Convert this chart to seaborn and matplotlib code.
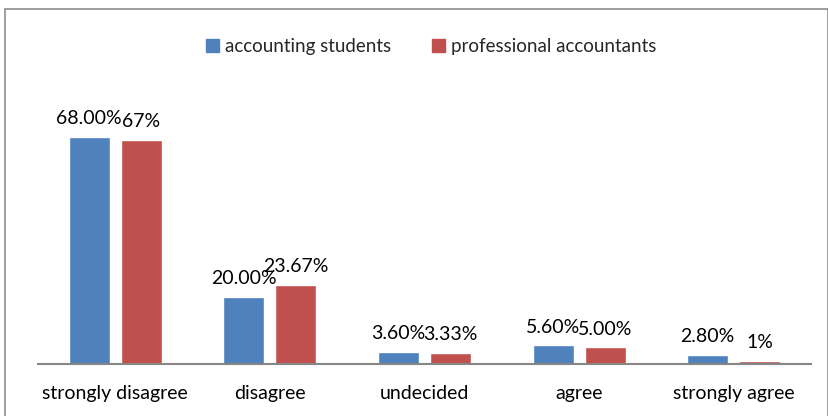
import matplotlib
matplotlib.use("Agg")
import matplotlib.pyplot as plt
import seaborn as sns
import pandas as pd
from matplotlib.patches import Rectangle

categories = ["strongly disagree", "disagree", "undecided", "agree", "strongly agree"]
students = [68.00, 20.00, 3.60, 5.60, 2.80]
professionals = [67.00, 23.67, 3.33, 5.00, 1.00]
student_labels = ["68.00%", "20.00%", "3.60%", "5.60%", "2.80%"]
prof_labels = ["67%", "23.67%", "3.33%", "5.00%", "1%"]
series = ["accounting students", "professional accountants"]

BLUE = "#4F81BD"
RED = "#C0504D"
AXIS = "#868686"

df = pd.DataFrame({
    "category": categories * 2,
    "value": students + professionals,
    "series": [series[0]] * 5 + [series[1]] * 5,
})

sns.set_theme(style="white")
plt.rcParams["font.family"] = ["Lato", "DejaVu Sans"]

fig = plt.figure(figsize=(8.29, 4.16), dpi=100, facecolor="white")
ax = fig.add_axes([38 / 829, 52 / 416, 773 / 829, 284 / 416])

sns.barplot(data=df, x="category", y="value", hue="series", order=categories,
            hue_order=series, palette=[BLUE, RED], width=0.673, gap=0.21,
            saturation=1, ax=ax, legend=False)

ax.set_ylim(0, 85)
ax.set_xlim(-0.5, 4.5)
ax.set_xlabel("")
ax.set_ylabel("")
ax.set_yticks([])
for side in ["top", "right", "left"]:
    ax.spines[side].set_visible(False)
ax.spines["bottom"].set_color(AXIS)
ax.spines["bottom"].set_linewidth(1.5)
ax.tick_params(axis="x", length=0, pad=15, labelsize=14, colors="black")

for container, labels in zip(ax.containers, [student_labels, prof_labels]):
    ax.bar_label(container, labels=labels, padding=7, fontsize=14, color="black")

handles = [Rectangle((0, 0), 1, 1, color=BLUE), Rectangle((0, 0), 1, 1, color=RED)]
fig.legend(handles, series, loc="center", bbox_to_anchor=(0.52, 0.888), ncol=2,
           frameon=False, fontsize=13.5, handlelength=0.7, handleheight=0.7,
           handletextpad=0.3, columnspacing=2.2)

fig.patches.append(Rectangle((5 / 829, -0.05), 823 / 829, 1.05 - 9 / 416,
                             transform=fig.transFigure, fill=False,
                             edgecolor="#8c8c8c", linewidth=1.2))

fig.savefig("out.png", dpi=100, facecolor="white")
